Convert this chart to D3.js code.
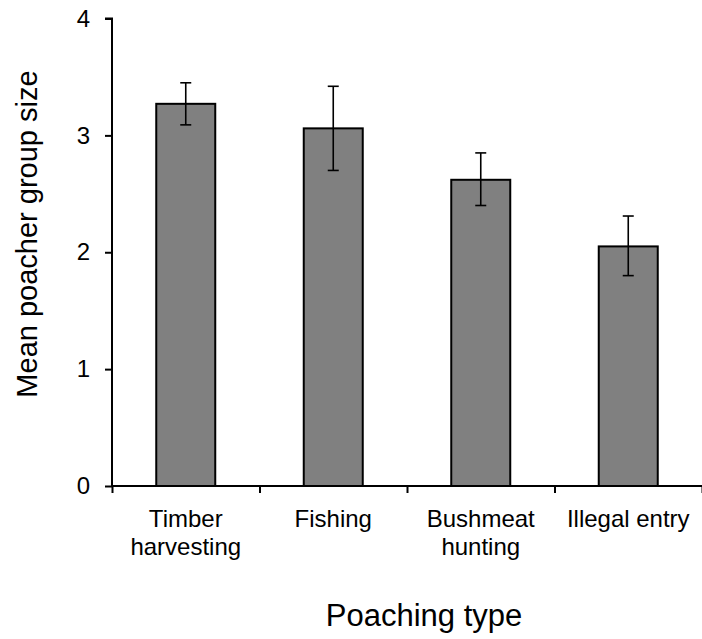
<!DOCTYPE html>
<html><head><meta charset="utf-8">
<script src="https://cdn.jsdelivr.net/npm/d3@7"></script>
<style>body{margin:0;background:#fff}svg{display:block}text{font-family:"Liberation Sans",Arial,sans-serif;fill:#000}</style>
</head><body><svg id="c" width="702" height="639"></svg>
<script>
const categories = [["Timber","harvesting"],["Fishing"],["Bushmeat","hunting"],["Illegal entry"]];
const means = [3.27, 3.06, 2.62, 2.05];
const errHigh = [3.45, 3.42, 2.85, 2.31];
const errLow = [3.09, 2.70, 2.40, 1.80];
const yTicks = [0,1,2,3,4];

const svg = d3.select("#c");
const x0 = 112, x1 = 702, yTop = 18.5, yBot = 486;
const x = d3.scaleBand().domain(d3.range(categories.length)).range([x0, x1]).paddingInner(0.6).paddingOuter(0.3);
const xb = d3.scaleLinear().domain([0, categories.length]).range([x0, x1]);
const y = d3.scaleLinear().domain([0,4]).range([yBot, yTop]);

// bars
svg.selectAll("rect.bar").data(means).join("rect")
  .attr("x", (d,i)=>x(i)).attr("width", x.bandwidth())
  .attr("y", d=>y(d)).attr("height", d=>yBot-y(d))
  .attr("fill","#808080").attr("stroke","#000").attr("stroke-width",2);

// error bars
const eg = svg.append("g").attr("stroke","#000").attr("stroke-width",1.6);
means.forEach((m,i)=>{
  const cx = x(i)+x.bandwidth()/2;
  eg.append("line").attr("x1",cx).attr("x2",cx).attr("y1",y(errHigh[i])).attr("y2",y(errLow[i]));
  eg.append("line").attr("x1",cx-5.5).attr("x2",cx+5.5).attr("y1",y(errHigh[i])).attr("y2",y(errHigh[i]));
  eg.append("line").attr("x1",cx-5.5).attr("x2",cx+5.5).attr("y1",y(errLow[i])).attr("y2",y(errLow[i]));
});

// y axis
const ya = svg.append("g").attr("transform",`translate(${x0},0)`)
  .call(d3.axisLeft(y).tickValues(yTicks).tickSize(7).tickPadding(15).tickFormat(d3.format("d")));
ya.select(".domain").attr("stroke-width",2).attr("d",`M-7,${y(4)}H0V${yBot}`);
ya.selectAll(".tick line").attr("stroke-width",2);
ya.selectAll(".tick text").attr("font-size",24).attr("font-family","Liberation Sans, Arial, sans-serif");

// x axis
const xa = svg.append("g").attr("transform",`translate(0,${yBot})`)
  .call(d3.axisBottom(xb).tickValues(d3.range(categories.length+1)).tickSize(7).tickFormat(""));
xa.select(".domain").attr("stroke-width",2).attr("d",`M${x0},0H${x1}`);
xa.selectAll(".tick line").attr("stroke-width",2);

// category labels
categories.forEach((lines,i)=>{
  const cx = x(i)+x.bandwidth()/2;
  const t = svg.append("text").attr("x",cx).attr("y",527).attr("text-anchor","middle").attr("font-size",24);
  lines.forEach((l,j)=>t.append("tspan").attr("x",cx).attr("dy", j===0?0:28).text(l));
});

// axis titles
svg.append("text").attr("x",424).attr("y",626).attr("text-anchor","middle").attr("font-size",31).text("Poaching type");
svg.append("text").attr("transform",`translate(37,234) rotate(-90)`).attr("text-anchor","middle").attr("font-size",29).text("Mean poacher group size");
</script></body></html>
